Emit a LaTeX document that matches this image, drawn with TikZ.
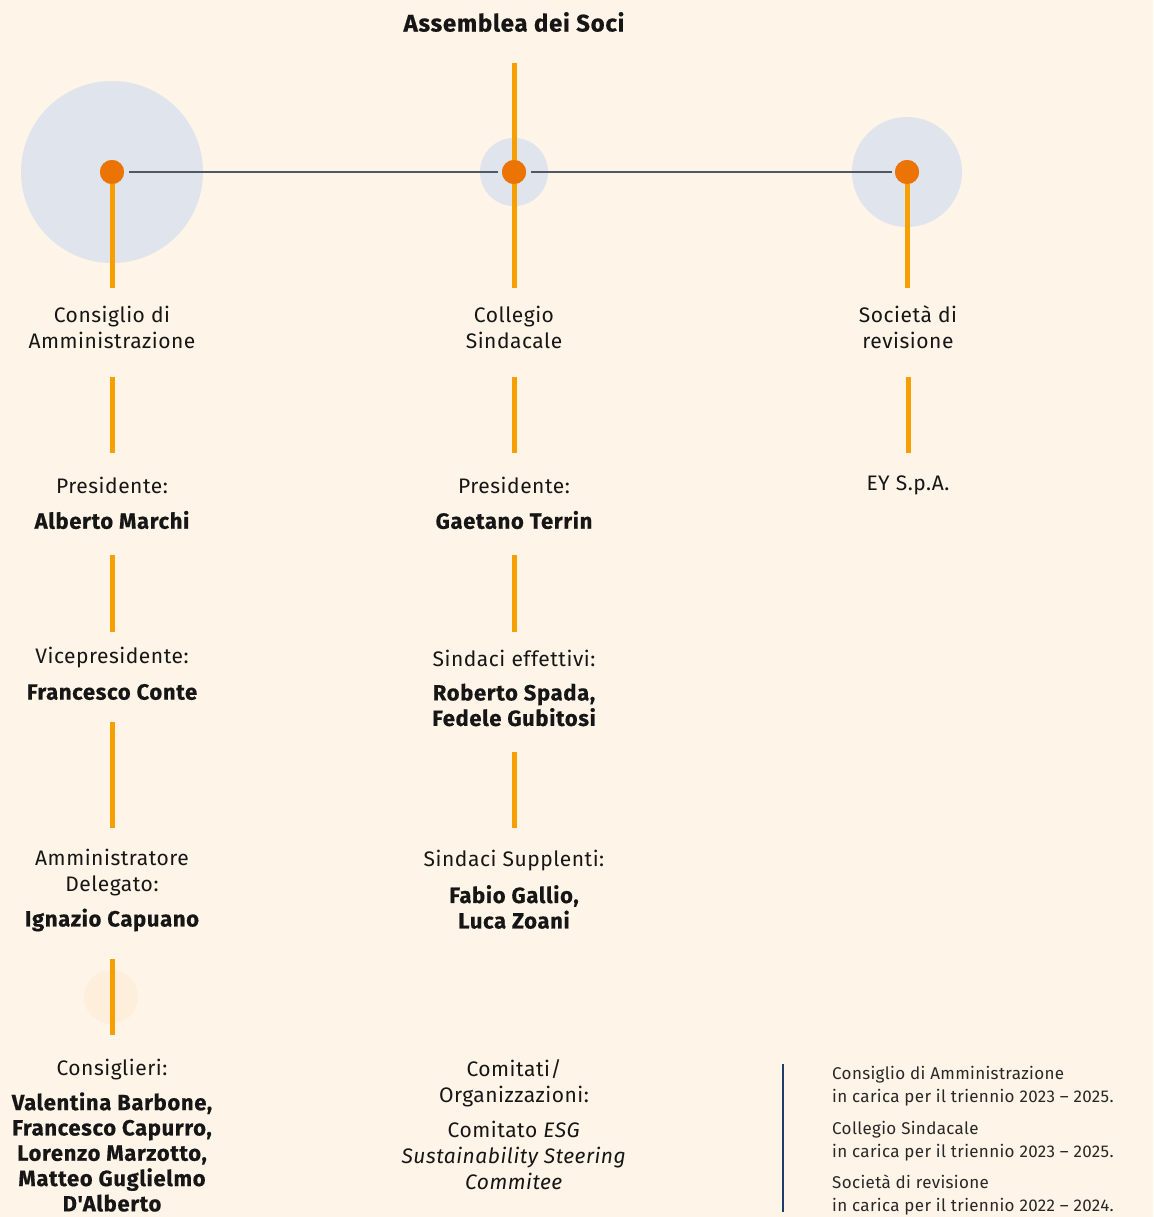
\documentclass[tikz,border=0pt]{standalone}
\usepackage{fontspec}
\setmainfont{Fira Sans}
\newfontfamily\chartfont{Fira Sans}[LetterSpace=2.5,BoldFeatures={LetterSpace=3,FakeBold=0.5}]
\newfontfamily\titlefont{Fira Sans}[LetterSpace=3,BoldFeatures={LetterSpace=3,FakeBold=0.5}]
\newfontfamily\notefont{Fira Sans}[LetterSpace=2]
\definecolor{bgcream}{RGB}{254,244,232}
\definecolor{halo}{RGB}{223,228,237}
\definecolor{halocream}{RGB}{254,239,221}
\definecolor{stem}{RGB}{245,160,0}
\definecolor{dotorange}{RGB}{236,116,4}
\definecolor{linkgray}{RGB}{80,88,100}
\definecolor{ink}{RGB}{22,22,22}
\definecolor{noteink}{RGB}{40,40,40}
\definecolor{navy}{RGB}{30,62,105}
\tikzset{
  stemline/.style={draw=stem,line width=5pt},
  link/.style={draw=linkgray,line width=1.2pt},
  hub/.style={circle,fill=dotorange,inner sep=0pt,minimum size=24pt},
  roletext/.style={text=ink,font=\chartfont\fontsize{21}{26}\selectfont,align=center,inner sep=0pt},
  persontext/.style={text=ink,font=\chartfont\fontsize{22}{25.5}\selectfont\bfseries,align=center,inner sep=0pt},
  notetext/.style={text=noteink,font=\notefont\fontsize{17}{23}\selectfont,align=left,inner sep=0pt,anchor=north west},
}
\begin{document}
\begin{tikzpicture}[x=1pt,y=-1pt]
\fill[bgcream] (0,0) rectangle (1153,1217);
\useasboundingbox (0,0) rectangle (1153,1217);

% halos behind the three bodies
\fill[halo] (112,172) circle (91);
\fill[halo] (514,172) circle (34);
\fill[halo] (907,172) circle (55);
\fill[halocream] (111,997) circle (27);

% title
\node[text=ink,inner sep=0pt,font=\titlefont\fontsize{24}{26}\selectfont\bfseries] (title) at (514,22) {Assemblea dei Soci};

% hubs
\coordinate (top) at (514,63);
\node[hub] (cda) at (112,172) {};
\node[hub] (cs) at (514,172) {};
\node[hub] (sr) at (907,172) {};
\coordinate (cdaEnd) at (112,288);
\coordinate (csEnd) at (514,288);
\coordinate (srEnd) at (907,288);

\draw[stemline] (top) -- (csEnd);
\draw[stemline] (cda.center) -- (cdaEnd);
\draw[stemline] (sr.center) -- (srEnd);
\node[hub] at (cs) {};
\node[hub] at (cda) {};
\node[hub] at (sr) {};

\draw[link] ([xshift=5pt]cda.east) -- ([xshift=-4pt]cs.west);
\draw[link] ([xshift=5pt]cs.east) -- ([xshift=-3pt]sr.west);

% headings
\node[roletext] (h1) at (112,327) {Consiglio di\\Amministrazione};
\node[roletext] (h2) at (514,327) {Collegio\\Sindacale};
\node[roletext] (h3) at (908,327) {Società di\\revisione};

% first segments
\coordinate (a1) at (112,377); \coordinate (a2) at (112,453);
\coordinate (b1) at (514,377); \coordinate (b2) at (514,453);
\coordinate (c1) at (908,377); \coordinate (c2) at (908,453);
\draw[stemline] (a1) -- (a2);
\draw[stemline] (b1) -- (b2);
\draw[stemline] (c1) -- (c2);

% presidents
\node[roletext] (p1) at (112,485) {Presidente:};
\node[persontext] (n1) at (112,520) {Alberto Marchi};
\node[roletext] (p2) at (514,485) {Presidente:};
\node[persontext] (n2) at (514,520) {Gaetano Terrin};
\node[roletext] (p3) at (908,485) {EY S.p.A.};

\coordinate (a3) at (112,555); \coordinate (a4) at (112,632);
\coordinate (b3) at (514,555); \coordinate (b4) at (514,632);
\draw[stemline] (a3) -- (a4);
\draw[stemline] (b3) -- (b4);

% second level
\node[roletext] (v1) at (112,658) {Vicepresidente:};
\node[persontext] (m1) at (112,692) {Francesco Conte};
\node[roletext] (v2) at (514,658) {Sindaci effettivi:};
\node[persontext] (m2) at (514,705) {Roberto Spada,\\Fedele Gubitosi};

\coordinate (a5) at (112,722); \coordinate (a6) at (112,828);
\coordinate (b5) at (514,752); \coordinate (b6) at (514,828);
\draw[stemline] (a5) -- (a6);
\draw[stemline] (b5) -- (b6);

% third level
\node[roletext] (d1) at (112,873) {Amministratore\\Delegato:};
\node[persontext] (k1) at (112,920) {Ignazio Capuano};
\node[roletext] (d2) at (514,861) {Sindaci Supplenti:};
\node[persontext] (k2) at (514,907) {Fabio Gallio,\\Luca Zoani};

\coordinate (a7) at (112,959); \coordinate (a8) at (112,1035);
\draw[stemline] (a7) -- (a8);

% board members and committees
\node[roletext] (cons) at (112,1070) {Consiglieri:};
\node[persontext,font=\chartfont\fontsize{22}{25.3}\selectfont\bfseries] (memb) at (112,1152) {Valentina Barbone,\\Francesco Capurro,\\Lorenzo Marzotto,\\Matteo Guglielmo\\D'Alberto};
\node[roletext] (com) at (514,1083) {Comitati/\\Organizzazioni:};
\node[roletext] (esg) at (514,1155) {Comitato \textit{ESG}\\\textit{Sustainability Steering}\\\textit{Commitee}};

% notes
\coordinate (l1) at (783,1064); \coordinate (l2) at (783,1212);
\draw[draw=navy,line width=2.5pt] (l1) -- (l2);
\node[notetext] (t1) at (832,1066) {Consiglio di Amministrazione\\in carica per il triennio 2023 – 2025.};
\node[notetext] (t2) at (832,1121) {Collegio Sindacale\\in carica per il triennio 2023 – 2025.};
\node[notetext] (t3) at (832,1175) {Società di revisione\\in carica per il triennio 2022 – 2024.};
\end{tikzpicture}
\end{document}
